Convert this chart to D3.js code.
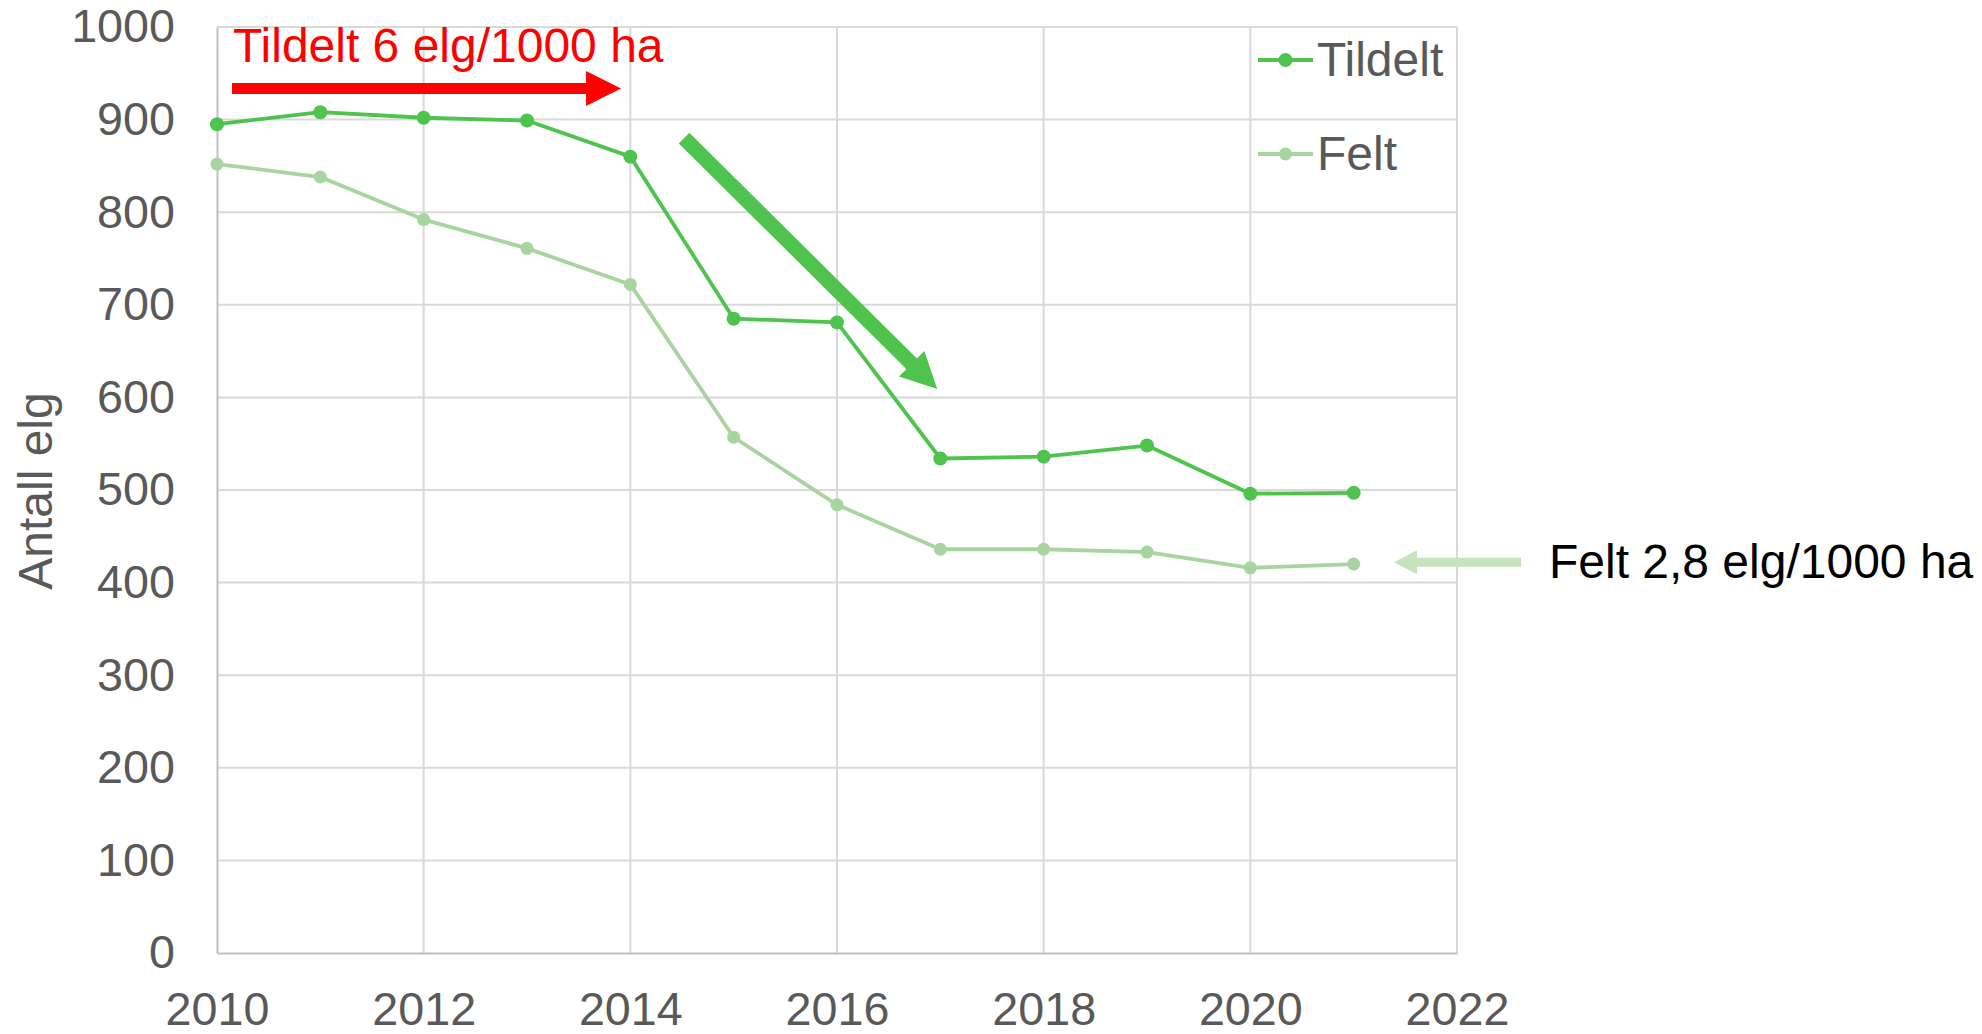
<!DOCTYPE html>
<html>
<head>
<meta charset="utf-8">
<script src="https://cdn.jsdelivr.net/npm/d3@7"></script>
<style>
  html, body { margin: 0; padding: 0; background: #ffffff; }
  svg { display: block; font-family: "Liberation Sans", Arial, sans-serif; }
</style>
</head>
<body>
<svg id="chart" width="1982" height="1034"></svg>
<script>
// Moose quota (tildelt) and harvest (felt), 2010–2021
const years   = [2010, 2011, 2012, 2013, 2014, 2015, 2016, 2017, 2018, 2019, 2020, 2021];
const tildelt = [895, 908, 902, 899, 860, 685, 681, 534, 536, 548, 496, 497];
const felt    = [852, 838, 792, 761, 722, 557, 484, 436, 436, 433, 416, 420];
const xTicks  = [2010, 2012, 2014, 2016, 2018, 2020, 2022];
const yTicks  = [0, 100, 200, 300, 400, 500, 600, 700, 800, 900, 1000];
const seriesNames = ["Tildelt", "Felt"];

const colors = { tildelt: "#4ec34e", felt: "#a8d4a0", feltArrow: "#c6e3be", red: "#ff0000", text: "#595959", grid: "#d9d9d9", axis: "#bfbfbf" };
const TICK_FONT = 46.7;
const FONT = 48;

const svg = d3.select("#chart");
const x = d3.scaleLinear().domain([2010, 2022]).range([217, 1457]);
const y = d3.scaleLinear().domain([0, 1000]).range([953, 27]);

// Gridlines
const grid = svg.append("g");
grid.selectAll("line.h").data(yTicks.filter(d => d > 0)).join("line")
  .attr("x1", x(2010)).attr("x2", x(2022))
  .attr("y1", d => y(d)).attr("y2", d => y(d))
  .attr("stroke", colors.grid).attr("stroke-width", 2);
grid.selectAll("line.v").data(xTicks.filter(d => d > 2010)).join("line")
  .attr("x1", d => x(d)).attr("x2", d => x(d))
  .attr("y1", y(0)).attr("y2", y(1000))
  .attr("stroke", colors.grid).attr("stroke-width", 2);

// Axes
const yAxis = d3.axisLeft(y).tickValues(yTicks).tickSize(0).tickPadding(42).tickFormat(d3.format("d"));
const xAxis = d3.axisBottom(x).tickValues(xTicks).tickSize(0).tickPadding(39).tickFormat(d3.format("d"));

const gy = svg.append("g").attr("transform", `translate(${x(2010)},0)`).call(yAxis);
const gx = svg.append("g").attr("transform", `translate(0,${y(0)})`).call(xAxis);
[gy, gx].forEach(g => {
  g.select(".domain").attr("stroke", colors.axis).attr("stroke-width", 2);
  g.selectAll("text").attr("fill", colors.text).style("font-size", TICK_FONT + "px")
    .style("font-family", '"Liberation Sans", Arial, sans-serif');
});
gx.selectAll("text").attr("dy", "0.71em");

// Y axis title
svg.append("text")
  .attr("transform", `translate(52,${(y(0) + y(1000)) / 2 + 1}) rotate(-90)`)
  .attr("text-anchor", "middle")
  .attr("fill", colors.text)
  .style("font-size", FONT + "px")
  .text("Antall elg");

// Series lines and markers
const line = d3.line().x((d, i) => x(years[i])).y(d => y(d));
const series = [
  { name: seriesNames[0], values: tildelt, color: colors.tildelt, r: 7 },
  { name: seriesNames[1], values: felt, color: colors.felt, r: 6.5 }
];
series.slice().reverse().forEach(s => {
  svg.append("path").datum(s.values)
    .attr("d", line).attr("fill", "none")
    .attr("stroke", s.color).attr("stroke-width", 3.8)
    .attr("stroke-linejoin", "round");
  svg.append("g").selectAll("circle").data(s.values).join("circle")
    .attr("cx", (d, i) => x(years[i])).attr("cy", d => y(d))
    .attr("r", s.r).attr("fill", s.color);
});

// Legend
const legend = svg.append("g");
series.forEach((s, i) => {
  const ly = [60, 154][i];
  legend.append("line").attr("x1", 1258).attr("x2", 1313).attr("y1", ly).attr("y2", ly)
    .attr("stroke", s.color).attr("stroke-width", 3.8);
  legend.append("circle").attr("cx", 1285.5).attr("cy", ly).attr("r", s.r).attr("fill", s.color);
  legend.append("text").attr("x", 1317).attr("y", ly + 15.5)
    .attr("fill", colors.text).style("font-size", FONT + "px").text(s.name);
});

// Block arrow polygon from tail to tip
function arrowPath(x0, y0, x1, y1, shaftW, headW, headL) {
  const dx = x1 - x0, dy = y1 - y0, len = Math.hypot(dx, dy);
  const ux = dx / len, uy = dy / len, nx = -uy, ny = ux;
  const bx = x1 - ux * headL, by = y1 - uy * headL;
  const pts = [
    [x0 + nx * shaftW / 2, y0 + ny * shaftW / 2],
    [bx + nx * shaftW / 2, by + ny * shaftW / 2],
    [bx + nx * headW / 2, by + ny * headW / 2],
    [x1, y1],
    [bx - nx * headW / 2, by - ny * headW / 2],
    [bx - nx * shaftW / 2, by - ny * shaftW / 2],
    [x0 - nx * shaftW / 2, y0 - ny * shaftW / 2]
  ];
  return "M" + pts.map(p => p.join(",")).join("L") + "Z";
}

// Quota annotation (red)
svg.append("text").attr("x", x(2010.155)).attr("y", y(962))
  .attr("fill", colors.red).style("font-size", FONT + "px")
  .text("Tildelt 6 elg/1000 ha");
svg.append("path")
  .attr("d", arrowPath(x(2010.145), y(933.6), x(2013.91), y(933.6), 11, 35, 35))
  .attr("fill", colors.red);

// Downward trend arrow
svg.append("path")
  .attr("d", arrowPath(x(2014.52), y(880), x(2016.97), y(609), 15, 36, 36))
  .attr("fill", colors.tildelt);

// Harvest annotation
svg.append("path")
  .attr("d", arrowPath(x(2022.62), y(422), x(2021.39), y(422), 9, 24, 23))
  .attr("fill", colors.feltArrow);
svg.append("text").attr("x", x(2022.89)).attr("y", y(405))
  .attr("fill", "#000000").style("font-size", FONT + "px")
  .text("Felt 2,8 elg/1000 ha");
</script>
</body>
</html>
